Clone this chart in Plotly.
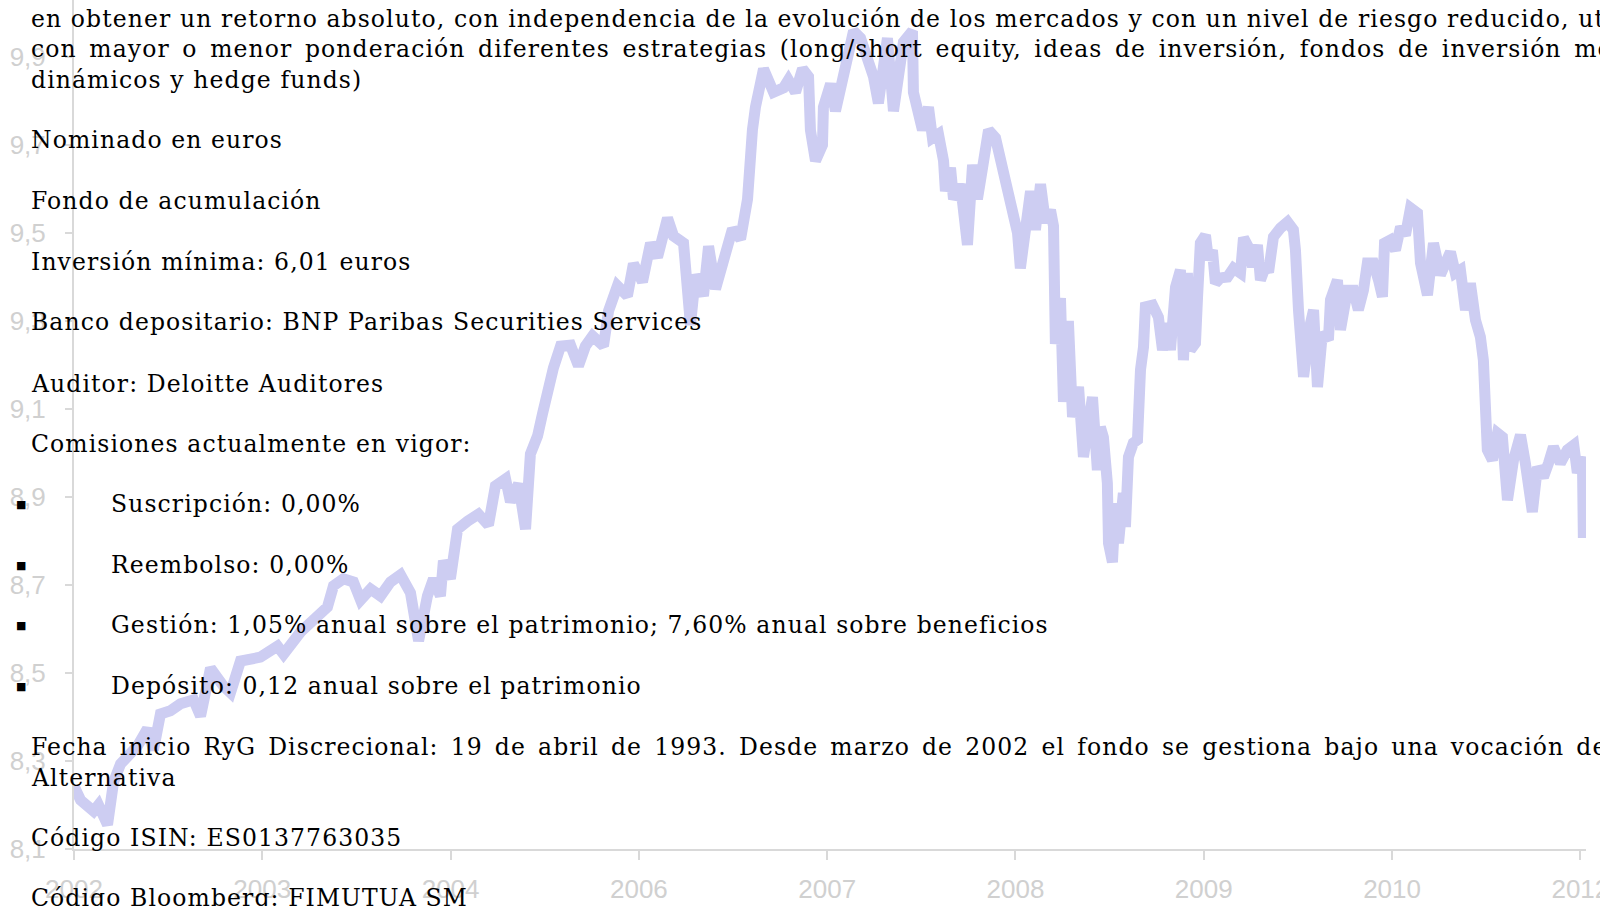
import plotly.graph_objects as go

# Valor liquidativo (periodo medido en intervalos entre etiquetas del eje X)
periodo = [
    0.000, 0.035, 0.104, 0.130, 0.178, 0.210, 0.247, 0.284, 0.337, 0.390,
    0.422, 0.459, 0.512, 0.566, 0.635, 0.672, 0.725, 0.794, 0.831, 0.884,
    0.990, 1.081, 1.113, 1.203, 1.293, 1.346, 1.378, 1.431, 1.484, 1.522,
    1.575, 1.628, 1.681, 1.734, 1.787, 1.830, 1.877, 1.909, 1.946, 1.962,
    1.999, 2.037, 2.090, 2.148, 2.201, 2.238, 2.292, 2.318, 2.361, 2.398,
    2.424, 2.462, 2.488, 2.515, 2.546, 2.584, 2.637, 2.679, 2.716, 2.754,
    2.812, 2.839, 2.886, 2.939, 2.971, 3.019, 3.062, 3.099, 3.152, 3.184,
    3.237, 3.274, 3.301, 3.343, 3.370, 3.407, 3.449, 3.497, 3.540, 3.577,
    3.603, 3.619, 3.662, 3.715, 3.768, 3.794, 3.832, 3.869, 3.901, 3.911,
    3.938, 3.975, 3.980, 4.018, 4.044, 4.071, 4.108, 4.140, 4.177, 4.214,
    4.246, 4.272, 4.320, 4.352, 4.379, 4.405, 4.453, 4.458, 4.506, 4.538,
    4.559, 4.591, 4.618, 4.628, 4.655, 4.671, 4.708, 4.745, 4.772, 4.798,
    4.825, 4.857, 4.894, 4.931, 4.957, 4.984, 5.011, 5.026, 5.053, 5.080,
    5.106, 5.133, 5.159, 5.186, 5.202, 5.212, 5.239, 5.255, 5.281, 5.303,
    5.335, 5.361, 5.409, 5.435, 5.451, 5.467, 5.488, 5.494, 5.515, 5.531,
    5.547, 5.573, 5.584, 5.600, 5.626, 5.648, 5.664, 5.680, 5.690, 5.728,
    5.759, 5.781, 5.807, 5.823, 5.850, 5.876, 5.892, 5.913, 5.929, 5.956,
    5.967, 5.982, 6.009, 6.025, 6.046, 6.062, 6.089, 6.126, 6.158, 6.195,
    6.211, 6.237, 6.259, 6.285, 6.301, 6.327, 6.344, 6.370, 6.407, 6.445,
    6.476, 6.487, 6.503, 6.524, 6.530, 6.567, 6.583, 6.604, 6.630, 6.662,
    6.673, 6.710, 6.726, 6.763, 6.795, 6.821, 6.848, 6.869, 6.901, 6.928,
    6.949, 6.960, 6.991, 7.018, 7.045, 7.071, 7.098, 7.135, 7.151, 7.188,
    7.220, 7.257, 7.310, 7.336, 7.363, 7.390, 7.416, 7.443, 7.469, 7.485,
    7.496, 7.506, 7.533, 7.560, 7.586, 7.613, 7.645, 7.682, 7.708, 7.745,
    7.772, 7.804, 7.831, 7.857, 7.894, 7.931, 7.965, 7.984, 8.011, 8.016,
]
valor = [
    8.243, 8.211, 8.186, 8.200, 8.155, 8.252, 8.293, 8.309, 8.334, 8.373,
    8.325, 8.407, 8.414, 8.430, 8.439, 8.402, 8.511, 8.470, 8.455, 8.527,
    8.536, 8.561, 8.543, 8.593, 8.625, 8.650, 8.698, 8.714, 8.707, 8.666,
    8.691, 8.675, 8.707, 8.723, 8.682, 8.573, 8.675, 8.714, 8.675, 8.755,
    8.714, 8.827, 8.845, 8.861, 8.836, 8.925, 8.941, 8.889, 8.930, 8.827,
    8.998, 9.039, 9.089, 9.145, 9.193, 9.243, 9.245, 9.198, 9.243, 9.266,
    9.243, 9.323, 9.380, 9.357, 9.430, 9.389, 9.477, 9.445, 9.534, 9.493,
    9.477, 9.291, 9.405, 9.357, 9.470, 9.373, 9.436, 9.509, 9.486, 9.577,
    9.734, 9.786, 9.873, 9.820, 9.830, 9.848, 9.820, 9.873, 9.855, 9.734,
    9.664, 9.700, 9.786, 9.839, 9.777, 9.830, 9.900, 9.959, 9.943, 9.891,
    9.855, 9.795, 9.943, 9.777, 9.855, 9.934, 9.959, 9.820, 9.734, 9.786,
    9.716, 9.725, 9.664, 9.595, 9.648, 9.577, 9.611, 9.473, 9.655, 9.577,
    9.648, 9.734, 9.716, 9.648, 9.620, 9.543, 9.500, 9.420, 9.507, 9.595,
    9.507, 9.611, 9.525, 9.552, 9.516, 9.248, 9.352, 9.116, 9.300, 9.082,
    9.150, 8.991, 9.127, 8.961, 9.059, 9.036, 8.932, 8.795, 8.752, 8.886,
    8.795, 8.909, 8.832, 8.991, 9.023, 9.030, 9.189, 9.241, 9.332, 9.336,
    9.309, 9.234, 9.295, 9.234, 9.377, 9.416, 9.211, 9.409, 9.234, 9.250,
    9.355, 9.477, 9.495, 9.439, 9.461, 9.386, 9.398, 9.400, 9.420, 9.409,
    9.489, 9.468, 9.423, 9.473, 9.393, 9.423, 9.411, 9.491, 9.511, 9.525,
    9.507, 9.461, 9.325, 9.234, 9.173, 9.295, 9.325, 9.150, 9.273, 9.257,
    9.348, 9.393, 9.280, 9.370, 9.370, 9.325, 9.370, 9.432, 9.432, 9.393,
    9.355, 9.477, 9.484, 9.461, 9.514, 9.495, 9.557, 9.545, 9.432, 9.359,
    9.477, 9.405, 9.457, 9.409, 9.416, 9.325, 9.386, 9.302, 9.264, 9.211,
    9.075, 9.007, 8.984, 9.045, 9.036, 8.893, 8.984, 9.041, 8.977, 8.866,
    8.968, 8.945, 8.977, 9.014, 8.977, 9.007, 9.018, 8.955, 8.991, 8.807,
]

etiquetas_x = ["2002", "2003", "2004", "2006", "2007", "2008", "2009", "2010", "2012"]
ticks_y = [8.1, 8.3, 8.5, 8.7, 8.9, 9.1, 9.3, 9.5, 9.7, 9.9]
etiquetas_y = ["8,1", "8,3", "8,5", "8,7", "8,9", "9,1", "9,3", "9,5", "9,7", "9,9"]

W, H = 1600, 906
L, R, T, B = 74, 14, 0, 57
PW, PH = W - L - R, H - T - B

fig = go.Figure(go.Scatter(
    x=periodo, y=valor, mode="lines",
    line=dict(color="#CDCDF2", width=11),
    hoverinfo="skip",
))

axis_style = dict(
    showline=True, linecolor="#D9D9D9", linewidth=2,
    ticks="outside", tickcolor="#D9D9D9", tickwidth=1.5,
    showgrid=False, zeroline=False, automargin=False,
    ticklabeloverflow="allow",
    tickfont=dict(family="Liberation Sans", size=26, color="#D0D0D0"),
)

fig.update_xaxes(range=[0, 8.03], tickvals=list(range(9)), ticktext=etiquetas_x,
                 ticklen=9, ticklabelstandoff=7, **axis_style)
fig.update_yaxes(range=[8.1, 8.1 + 849 / 440], tickvals=ticks_y, ticktext=etiquetas_y,
                 ticklen=7, ticklabelstandoff=14, **axis_style)


def px_x(x):
    return (x - L) / PW


def px_y(y):
    return 1 - (y - T) / PH


def texto(s, x, y, ws=0):
    estilo = "letter-spacing:1.1px"
    if ws:
        estilo += ";word-spacing:%spx" % ws
    fig.add_annotation(text='<span style="%s">%s</span>' % (estilo, s),
                       x=px_x(x), y=px_y(y), xref="paper", yref="paper",
                       xanchor="left", yanchor="middle", showarrow=False, align="left",
                       font=dict(family="DejaVu Serif", size=23.5, color="black"))


# texto del documento superpuesto sobre el grafico
texto("en obtener un retorno absoluto, con independencia de la evolución de los "
      "mercados y con un nivel de riesgo reducido, utilizando", 29, 19)
texto("con mayor o menor ponderación diferentes estrategias (long/short equity, "
      "ideas de inversión, fondos de inversión monetarios", 29, 49, ws=4)
texto("dinámicos y hedge funds)", 29, 80)
texto("Nominado en euros", 29, 140)
texto("Fondo de acumulación", 29, 201)
texto("Inversión mínima: 6,01 euros", 29, 262)
texto("Banco depositario: BNP Paribas Securities Services", 29, 322)
texto("Auditor: Deloitte Auditores", 29, 384)
texto("Comisiones actualmente en vigor:", 29, 444)

subs = [
    ("Suscripción: 0,00%", 504),
    ("Reembolso: 0,00%", 565),
    ("Gestión: 1,05% anual sobre el patrimonio; 7,60% anual sobre beneficios", 625),
    ("Depósito: 0,12 anual sobre el patrimonio", 686),
]
for s, y in subs:
    fig.add_annotation(text="■", x=px_x(21), y=px_y(y), xref="paper", yref="paper",
                       xanchor="center", yanchor="middle", showarrow=False,
                       font=dict(family="DejaVu Sans", size=11, color="black"))
    texto(s, 109, y)

texto("Fecha inicio RyG Discrecional: 19 de abril de 1993. Desde marzo de 2002 "
      "el fondo se gestiona bajo una vocación de Gestión", 29, 747, ws=3.5)
texto("Alternativa", 29, 778)
texto("Código ISIN: ES0137763035", 29, 838)
texto("Código Bloomberg: FIMUTUA SM", 29, 898)

fig.update_layout(
    width=W, height=H,
    margin=dict(l=L, r=R, t=T, b=B, pad=0),
    plot_bgcolor="white", paper_bgcolor="white",
    showlegend=False,
)

fig.write_html("out.html", config={"displayModeBar": False},
               post_script="document.body.style.margin='0';document.body.style.overflow='hidden';")
